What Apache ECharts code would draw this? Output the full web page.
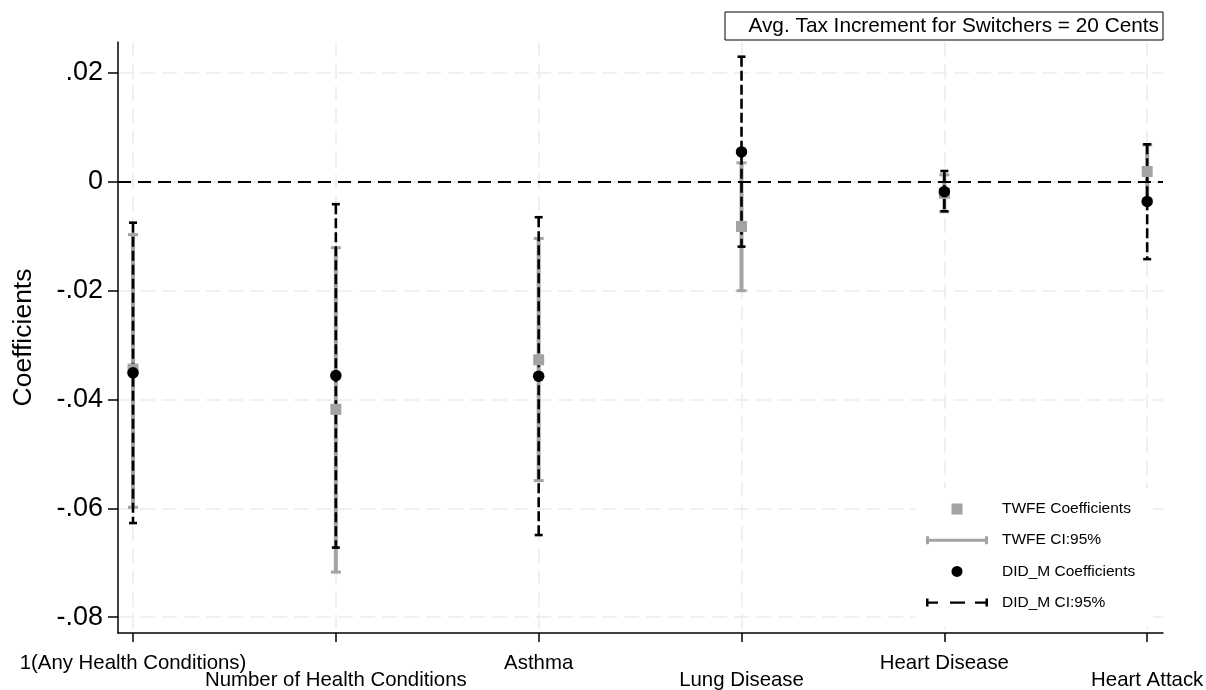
<!DOCTYPE html>
<html>
<head>
<meta charset="utf-8">
<script src="https://cdn.jsdelivr.net/npm/echarts@6/dist/echarts.min.js"></script>
<style>html,body{margin:0;padding:0;background:#fff}#c{width:1206px;height:690px}</style>
</head>
<body>
<div id="c"></div>
<script>
// ---- data ----
const categories = ['1(Any Health Conditions)', 'Number of Health Conditions', 'Asthma', 'Lung Disease', 'Heart Disease', 'Heart Attack'];
const twfeCoef = [-0.0344, -0.0418, -0.0327, -0.0082, -0.0021, 0.0019];
const twfeLow  = [-0.0598, -0.0717, -0.0549, -0.0200, -0.0055, -0.0031];
const twfeHigh = [-0.0097, -0.0121, -0.0104, 0.0035, 0.0013, 0.0068];
const didCoef  = [-0.0351, -0.0356, -0.0357, 0.0055, -0.0018, -0.0036];
const didLow   = [-0.0627, -0.0672, -0.0649, -0.0119, -0.0054, -0.0142];
const didHigh  = [-0.0075, -0.0041, -0.0065, 0.0230, 0.0020, 0.0069];
const yTickValues = [-0.08, -0.06, -0.04, -0.02, 0, 0.02];
const yTickLabels = ['-.08', '-.06', '-.04', '-.02', '0', '.02'];
const noteText = 'Avg. Tax Increment for Switchers = 20 Cents';

const FONT = '"Liberation Sans", Arial, Helvetica, sans-serif';
const GREY = '#a3a3a3';
const xPos = categories.map((_, i) => i + 1);
const xPosUpper = xPos.filter(x => x % 2 === 1);
const xPosLower = xPos.filter(x => x % 2 === 0);

function errorRender(opt) {
  return function (params, api) {
    const x = api.value(0), lo = api.value(1), hi = api.value(2);
    const a = api.coord([x, hi]), b = api.coord([x, lo]);
    const h = opt.capHalf;
    return {
      type: 'group',
      children: [
        { type: 'line', shape: { x1: a[0], y1: a[1], x2: b[0], y2: b[1] },
          style: { stroke: opt.color, lineWidth: opt.width, lineDash: opt.dash || null } },
        { type: 'line', shape: { x1: a[0] - h, y1: a[1], x2: a[0] + h, y2: a[1] },
          style: { stroke: opt.color, lineWidth: opt.capWidth } },
        { type: 'line', shape: { x1: b[0] - h, y1: b[1], x2: b[0] + h, y2: b[1] },
          style: { stroke: opt.color, lineWidth: opt.capWidth } }
      ]
    };
  };
}
const catLabel = v => categories[Math.round(v) - 1];

const chart = echarts.init(document.getElementById('c'), null, { renderer: 'canvas' });
const option = {
  animation: false,
  backgroundColor: '#fff',
  textStyle: { fontFamily: FONT },
  grid: { left: 118, right: 43, top: 42, bottom: 57, containLabel: false, outerBoundsMode: 'none' },
  xAxis: [{
    type: 'value', min: 0.926, max: 6.078, position: 'bottom', offset: 0,
    axisLine: { show: true, onZero: false, lineStyle: { color: '#000', width: 1.5 } },
    axisTick: { show: true, length: 9, lineStyle: { color: '#000', width: 1.5 }, customValues: xPos },
    axisLabel: { customValues: xPosUpper, margin: 20, color: '#000', fontSize: 20.4, fontFamily: FONT, formatter: catLabel },
    splitLine: { show: true, lineStyle: { color: '#ebebeb', width: 1.5, type: [15, 7] } }
  }, {
    type: 'value', min: 0.926, max: 6.078, position: 'bottom', offset: 0,
    axisLine: { show: false, onZero: false },
    axisTick: { show: false },
    splitLine: { show: false },
    axisLabel: { customValues: xPosLower, margin: 37, color: '#000', fontSize: 20.4, fontFamily: FONT, formatter: catLabel }
  }],
  yAxis: {
    type: 'value', min: -0.0829, max: 0.0257,
    name: 'Coefficients', nameLocation: 'middle', nameGap: 81, nameRotate: 90,
    nameTextStyle: { color: '#000', fontSize: 26.5, fontFamily: FONT },
    axisLine: { show: true, onZero: false, lineStyle: { color: '#000', width: 1.5 } },
    axisTick: { show: true, length: 10, lineStyle: { color: '#000', width: 1.5 }, customValues: yTickValues },
    axisLabel: {
      customValues: yTickValues, margin: 15, color: '#000', fontSize: 27, fontFamily: FONT,
      formatter: function (v) {
        let best = 0;
        yTickValues.forEach((t, i) => { if (Math.abs(t - v) < Math.abs(yTickValues[best] - v)) best = i; });
        return yTickLabels[best];
      }
    },
    splitLine: { show: true, lineStyle: { color: '#ebebeb', width: 1.5, type: [15, 7] } }
  },
  legend: {
    orient: 'vertical', left: 915, top: 488,
    padding: [13, 18, 16, 11],
    backgroundColor: '#fff',
    itemWidth: 62, itemHeight: 11, itemGap: 15.2,
    selectedMode: false,
    textStyle: { color: '#000', fontSize: 15.5, fontFamily: FONT, padding: [0, 0, 0, 9] },
    data: [
      { name: 'TWFE Coefficients', icon: 'path://M0,0H10V10H0Z', itemStyle: { color: GREY } },
      { name: 'TWFE CI:95%', icon: 'path://M0,0H3V8H0Z M0,2.5H62V5.5H0Z M59,0H62V8H59Z', itemStyle: { color: GREY } },
      { name: 'DID_M Coefficients', icon: 'circle', itemStyle: { color: '#000' } },
      { name: 'DID_M CI:95%', icon: 'path://M0,0H2.5V8H0Z M0,2.8H12V5.2H0Z M24,2.8H39V5.2H24Z M49,2.8H62V5.2H49Z M59.5,0H62V8H59.5Z', itemStyle: { color: '#000' } }
    ]
  },
  graphic: [
    { type: 'rect', shape: { x: 725, y: 12, width: 438, height: 28 },
      style: { fill: '#fff', stroke: '#000', lineWidth: 1 }, z: 10 },
    { type: 'text', x: 1159, y: 26.5, z: 11,
      style: { text: noteText, align: 'right', verticalAlign: 'middle', fill: '#000', font: '20.8px ' + FONT } }
  ],
  series: [
    {
      name: 'TWFE CI:95%', type: 'custom', itemStyle: { color: GREY },
      renderItem: errorRender({ color: GREY, width: 4, capHalf: 5, capWidth: 3 }),
      encode: { x: 0, y: [1, 2] },
      data: xPos.map((x, i) => [x, twfeLow[i], twfeHigh[i]]),
      markLine: {
        silent: true, symbol: 'none', label: { show: false },
        lineStyle: { color: '#000', type: [13, 7], width: 2 },
        data: [{ yAxis: 0 }]
      }
    },
    {
      name: 'DID_M CI:95%', type: 'custom', itemStyle: { color: '#000' },
      renderItem: errorRender({ color: '#000', width: 2.6, dash: [10, 4], capHalf: 4, capWidth: 2.6 }),
      encode: { x: 0, y: [1, 2] },
      data: xPos.map((x, i) => [x, didLow[i], didHigh[i]])
    },
    {
      name: 'TWFE Coefficients', type: 'scatter', symbol: 'rect', symbolSize: 11,
      itemStyle: { color: GREY, opacity: 1 },
      data: xPos.map((x, i) => [x, twfeCoef[i]])
    },
    {
      name: 'DID_M Coefficients', type: 'scatter', symbol: 'circle', symbolSize: 11.5,
      itemStyle: { color: '#000', opacity: 1 },
      data: xPos.map((x, i) => [x, didCoef[i]])
    }
  ]
};
chart.setOption(option);
</script>
</body>
</html>
